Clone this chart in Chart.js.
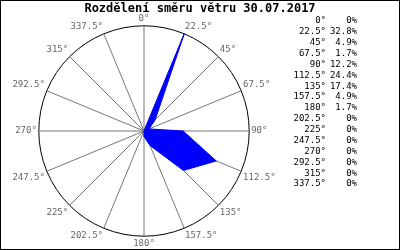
<!DOCTYPE html>
<html lang="cs">
<head>
    <meta charset="UTF-8">
    <title>Rozdělení směru větru</title>
    <script src="https://cdn.jsdelivr.net/npm/chart.js"></script>
    <style>
        body {
            margin: 0;
            background: white;
        }

        .container {
            width: 400px;
            height: 250px;
        }
    </style>
</head>
<body>
    <div class="container">
        <canvas id="windChart" width="400" height="250"></canvas>
    </div>

    <script>
        "use strict";

        // Směry větru (stupně) a jejich podíl v procentech
        const directions = ['0°', '22.5°', '45°', '67.5°', '90°', '112.5°', '135°', '157.5°',
            '180°', '202.5°', '225°', '247.5°', '270°', '292.5°', '315°', '337.5°'];
        const shares = [0, 32.8, 4.9, 1.7, 12.2, 24.4, 17.4, 4.9, 1.7, 0, 0, 0, 0, 0, 0, 0];
        const shareLabels = ['0%', '32.8%', '4.9%', '1.7%', '12.2%', '24.4%', '17.4%', '4.9%',
            '1.7%', '0%', '0%', '0%', '0%', '0%', '0%', '0%'];
        const chartTitle = 'Rozdělení směru větru 30.07.2017';

        const MONO = '"DejaVu Sans Mono", "Liberation Mono", monospace';

        // Titulek přes celou šířku, tabulka vpravo a rámeček kolem obrázku
        const tablePlugin = {
            id: 'windTable',
            afterDraw(chart) {
                const ctx = chart.ctx;
                ctx.save();
                ctx.fillStyle = '#000';
                ctx.textBaseline = 'middle';
                ctx.textAlign = 'center';
                ctx.font = 'bold 12px ' + MONO;
                ctx.fillText(chartTitle, 200, 9);

                ctx.font = '9px ' + MONO;
                ctx.textAlign = 'right';
                directions.forEach((d, i) => {
                    const y = 21 + i * 10.87;
                    ctx.fillText(d, 326, y);
                    ctx.fillText(shareLabels[i], 357, y);
                });
                ctx.strokeStyle = '#000';
                ctx.lineWidth = 1;
                ctx.strokeRect(0.5, 0.5, 399, 249);
                ctx.restore();
            }
        };

        const bgPlugin = {
            id: 'bg',
            beforeDraw(chart) {
                const ctx = chart.ctx;
                ctx.save();
                ctx.fillStyle = '#fff';
                ctx.fillRect(0, 0, chart.width, chart.height);
                ctx.restore();
            }
        };

        new Chart(document.getElementById('windChart'), {
            type: 'radar',
            data: {
                labels: directions,
                datasets: [{
                    data: shares,
                    backgroundColor: '#0000ff',
                    borderColor: '#0000ff',
                    borderWidth: 1,
                    pointRadius: 0,
                    fill: true,
                    tension: 0
                }]
            },
            options: {
                responsive: false,
                animation: false,
                layout: { padding: { left: 0, right: 112, top: 13, bottom: 0 } },
                plugins: {
                    legend: { display: false },
                    tooltip: { enabled: false },
                    title: { display: false }
                },
                scales: {
                    r: {
                        min: 0,
                        max: 32.8,
                        ticks: { display: false, stepSize: 32.8 },
                        grid: { color: '#000', lineWidth: 1, circular: true },
                        angleLines: { color: '#777', lineWidth: 1 },
                        pointLabels: {
                            color: '#666',
                            padding: 2,
                            font: { family: MONO, size: 9 }
                        }
                    }
                }
            },
            plugins: [bgPlugin, tablePlugin]
        });
    </script>
</body>
</html>
